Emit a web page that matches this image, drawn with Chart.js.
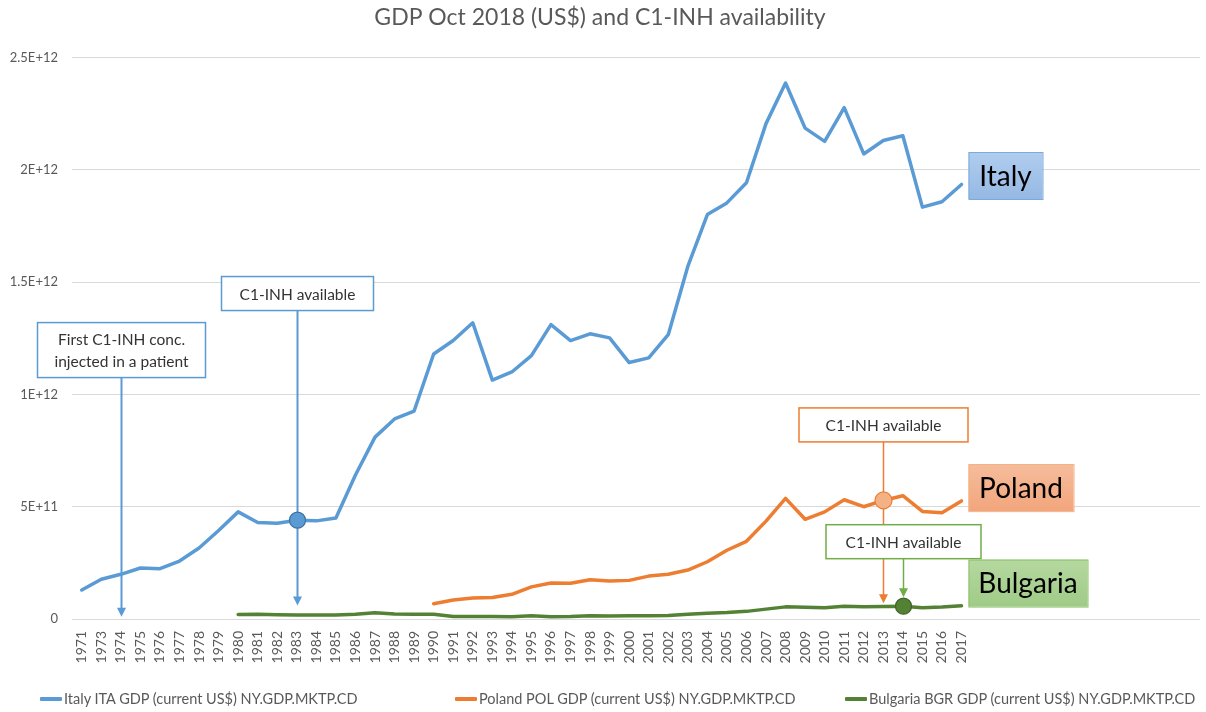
<!DOCTYPE html>
<html>
<head>
<meta charset="utf-8">
<title>GDP Oct 2018 (US$) and C1-INH availability</title>
<script src="https://cdn.jsdelivr.net/npm/chart.js@4.4.1/dist/chart.umd.min.js"></script>
<style>
  html, body { margin: 0; padding: 0; background: #fff; }
  #wrap { position: relative; width: 1206px; height: 712px; }
  #legend { position: absolute; left: 0; top: 690px; width: 1206px; height: 20px;
            font: 14.5px Lato, "Open Sans", sans-serif; color: #595959; }
  .legend-item { position: absolute; top: 0; display: flex; align-items: center; white-space: nowrap; }
  .legend-item .swatch { display: inline-block; width: 22px; height: 4px; margin-right: 2px; border-radius: 1px; }
</style>
</head>
<body>
<div id="wrap">
  <canvas id="gdpChart" width="1206" height="712"></canvas>
  <div id="legend"></div>
</div>
<script>
'use strict';
// x categories (note: 1972 is missing in the source sheet)
const years = [1971, 1973, 1974, 1975, 1976, 1977, 1978, 1979, 1980, 1981, 1982, 1983, 1984,
  1985, 1986, 1987, 1988, 1989, 1990, 1991, 1992, 1993, 1994, 1995, 1996, 1997, 1998, 1999,
  2000, 2001, 2002, 2003, 2004, 2005, 2006, 2007, 2008, 2009, 2010, 2011, 2012, 2013, 2014,
  2015, 2016, 2017];

const italyGdp = [129e9, 177e9, 199e9, 227e9, 224e9, 258e9, 316e9, 394e9, 477e9, 430e9, 426e9,
  440e9, 437e9, 450e9, 641e9, 810e9, 891e9, 926e9, 1180e9, 1240e9, 1319e9, 1064e9, 1100e9,
  1173e9, 1311e9, 1240e9, 1270e9, 1252e9, 1142e9, 1163e9, 1266e9, 1570e9, 1801e9, 1853e9,
  1943e9, 2206e9, 2387e9, 2186e9, 2127e9, 2277e9, 2071e9, 2131e9, 2152e9, 1834e9, 1858e9,
  1935e9];

const polandGdp = [null, null, null, null, null, null, null, null, null, null, null, null, null,
  null, null, null, null, null, 68e9, 85e9, 94e9, 96e9, 110e9, 143e9, 160e9, 159e9, 175e9,
  169e9, 172e9, 191e9, 199e9, 218e9, 255e9, 306e9, 346e9, 436e9, 537e9, 444e9, 477e9, 531e9,
  500e9, 528e9, 549e9, 479e9, 473e9, 526e9];

const bulgariaGdp = [null, null, null, null, null, null, null, null, 20e9, 21e9, 19e9, 18e9,
  18e9, 18e9, 21e9, 28e9, 22e9, 21e9, 21e9, 11e9, 11e9, 11e9, 10e9, 14e9, 10e9, 11e9, 15e9,
  13e9, 14e9, 15e9, 16e9, 21e9, 26e9, 29e9, 34e9, 44e9, 54e9, 52e9, 50e9, 57e9, 54e9, 56e9,
  57e9, 50e9, 53e9, 59e9];

const seriesNames = ['Italy ITA GDP (current US$) NY.GDP.MKTP.CD',
  'Poland POL GDP (current US$) NY.GDP.MKTP.CD',
  'Bulgaria BGR GDP (current US$) NY.GDP.MKTP.CD'];
const seriesColors = ['#5b9bd5', '#ed7d31', '#548235'];

const yTicks = [0, 5e11, 1e12, 1.5e12, 2e12, 2.5e12];
const yTickLabels = ['0', '5E+11', '1E+12', '1.5E+12', '2E+12', '2.5E+12'];

const FONT = 'Lato, "Open Sans", sans-serif';
Chart.defaults.font.family = FONT;
Chart.defaults.color = '#595959';

// call-out boxes with arrows (box top is given in axis units, size in px)
const callouts = [
  { lines: ['First C1-INH conc.', 'injected in a patient'], year: 1974, color: '#5b9bd5',
    boxTop: 1.32e12, boxW: 168, boxH: 55, tip: 0.01e12, lineW: 2 },
  { lines: ['C1-INH available'], year: 1983, color: '#5b9bd5',
    boxTop: 1.525e12, boxW: 152, boxH: 34, tip: 0.06e12, lineW: 2,
    marker: { series: italyGdp, fill: '#5b9bd5', stroke: '#41719c', r: 8 } },
  { lines: ['C1-INH available'], year: 2013, color: '#ed7d31',
    boxTop: 0.94e12, boxW: 169, boxH: 34, tip: 0.07e12, lineW: 1.5,
    marker: { series: polandGdp, fill: '#f4b183', stroke: '#ed7d31', r: 8.5 } },
  { lines: ['C1-INH available'], year: 2014, color: '#70ad47',
    boxTop: 0.42e12, boxW: 155, boxH: 34, tip: null, lineW: 1.5,
    marker: { series: bulgariaGdp, fill: '#548235', stroke: '#3f6428', r: 8 } }
];

// country name tags right of the line ends
const tags = [
  { text: 'Italy', center: 1.975e12, w: 74, h: 47, top: '#b0cdee', bottom: '#95b9e4', border: '#7ea9dc' },
  { text: 'Poland', center: 0.585e12, w: 105, h: 47, top: '#f6bd9c', bottom: '#f2a57c', border: '#f4b183' },
  { text: 'Bulgaria', center: 0.16e12, w: 119, h: 47, top: '#b6d8a0', bottom: '#9fcb86', border: '#8cc26c' }
];

function seriesPoints(values) {
  return years.map((yr, i) => ({ x: i, y: values[i] }));
}

function arrowHead(ctx, x, tipY, size) {
  ctx.beginPath();
  ctx.moveTo(x, tipY);
  ctx.lineTo(x - size / 2, tipY - size);
  ctx.lineTo(x + size / 2, tipY - size);
  ctx.closePath();
  ctx.fill();
}

const calloutPlugin = {
  id: 'callouts',
  afterDatasetsDraw(chart) {
    const ctx = chart.ctx;
    const xs = chart.scales.x;
    const ys = chart.scales.y;
    ctx.save();

    const placed = callouts.map(c => {
      const idx = years.indexOf(c.year);
      const px = Math.round(xs.getPixelForValue(idx)) + 0.5;
      const top = ys.getPixelForValue(c.boxTop);
      let markerY = null;
      if (c.marker) markerY = ys.getPixelForValue(c.marker.series[idx]);
      let tipY = c.tip !== null ? ys.getPixelForValue(c.tip) : markerY - c.marker.r - 1;
      return { c, px, top, markerY, tipY };
    });

    // arrows
    placed.forEach(p => {
      ctx.strokeStyle = p.c.color;
      ctx.fillStyle = p.c.color;
      ctx.lineWidth = p.c.lineW;
      ctx.beginPath();
      ctx.moveTo(p.px, p.top + p.c.boxH);
      ctx.lineTo(p.px, p.tipY - 8);
      ctx.stroke();
      arrowHead(ctx, p.px, p.tipY, 9);
    });

    // markers on the lines
    placed.forEach(p => {
      if (!p.c.marker) return;
      const m = p.c.marker;
      ctx.beginPath();
      ctx.arc(p.px, p.markerY, m.r, 0, Math.PI * 2);
      ctx.fillStyle = m.fill;
      ctx.fill();
      ctx.lineWidth = 1.2;
      ctx.strokeStyle = m.stroke;
      ctx.stroke();
    });

    // boxes
    placed.forEach(p => {
      const left = p.px - p.c.boxW / 2;
      ctx.fillStyle = '#ffffff';
      ctx.fillRect(left, p.top, p.c.boxW, p.c.boxH);
      ctx.lineWidth = 1.5;
      ctx.strokeStyle = p.c.color;
      ctx.strokeRect(left, p.top, p.c.boxW, p.c.boxH);
      ctx.fillStyle = '#333333';
      ctx.font = '15.5px ' + FONT;
      ctx.textAlign = 'center';
      ctx.textBaseline = 'middle';
      const lh = 22;
      const startY = p.top + p.c.boxH / 2 - (p.c.lines.length - 1) * lh / 2;
      p.c.lines.forEach((t, k) => ctx.fillText(t, p.px, startY + k * lh + 1));
    });

    // country tags
    const tagLeft = xs.getPixelForValue(years.length - 1) + 7;
    tags.forEach(t => {
      const cy = ys.getPixelForValue(t.center);
      const top = cy - t.h / 2;
      const g = ctx.createLinearGradient(0, top, 0, top + t.h);
      g.addColorStop(0, t.top);
      g.addColorStop(1, t.bottom);
      ctx.fillStyle = g;
      ctx.fillRect(tagLeft, top, t.w, t.h);
      ctx.lineWidth = 1;
      ctx.strokeStyle = t.border;
      ctx.strokeRect(tagLeft + 0.5, top + 0.5, t.w, t.h);
      ctx.fillStyle = '#000000';
      ctx.font = '28px ' + FONT;
      ctx.textAlign = 'center';
      ctx.textBaseline = 'middle';
      ctx.fillText(t.text, tagLeft + t.w / 2, cy + 1);
    });

    ctx.restore();
  }
};

const gdpSeries = [italyGdp, polandGdp, bulgariaGdp];

const chart = new Chart(document.getElementById('gdpChart').getContext('2d'), {
  type: 'line',
  data: {
    datasets: gdpSeries.map((vals, i) => ({
      label: seriesNames[i],
      data: seriesPoints(vals),
      borderColor: seriesColors[i],
      backgroundColor: seriesColors[i],
      borderWidth: 3.5,
      borderJoinStyle: 'round',
      borderCapStyle: 'round',
      pointRadius: 0,
      tension: 0,
      spanGaps: false
    }))
  },
  options: {
    responsive: false,
    animation: false,
    layout: { padding: { left: 0, right: 6, top: 0, bottom: 0 } },
    plugins: {
      title: {
        display: true,
        text: 'GDP Oct 2018 (US$) and C1-INH availability',
        color: '#595959',
        font: { size: 23, weight: 'normal' },
        padding: { top: 4, bottom: 26 }
      },
      legend: { display: false },
      tooltip: { enabled: false }
    },
    scales: {
      x: {
        type: 'linear',
        min: -0.5,
        max: 57.2,
        grid: { display: false },
        border: { display: false },
        afterBuildTicks: (scale) => {
          scale.ticks = years.map((yr, i) => ({ value: i }));
        },
        afterFit: (scale) => { scale.height = 93; },
        ticks: {
          autoSkip: false,
          minRotation: 90,
          maxRotation: 90,
          padding: 4,
          color: '#595959',
          font: { size: 14 },
          callback: (value) => years[value]
        }
      },
      y: {
        min: 0,
        max: 2.5e12,
        grid: { color: '#d9d9d9', lineWidth: 1, drawTicks: false },
        border: { display: false },
        afterBuildTicks: (scale) => {
          scale.ticks = yTicks.map(v => ({ value: v }));
        },
        afterFit: (scale) => { scale.width = 72; },
        ticks: {
          padding: 14,
          color: '#595959',
          font: { size: 13 },
          callback: (value, index) => yTickLabels[index]
        }
      }
    }
  },
  plugins: [calloutPlugin]
});

// legend built from the chart's datasets
const legendLeft = [40, 455, 845];
const legendEl = document.getElementById('legend');
chart.data.datasets.forEach((ds, i) => {
  const item = document.createElement('div');
  item.className = 'legend-item';
  item.style.left = legendLeft[i] + 'px';
  const sw = document.createElement('span');
  sw.className = 'swatch';
  sw.style.background = ds.borderColor;
  const label = document.createElement('span');
  label.textContent = ds.label;
  item.append(sw, label);
  legendEl.appendChild(item);
});
</script>
</body>
</html>
